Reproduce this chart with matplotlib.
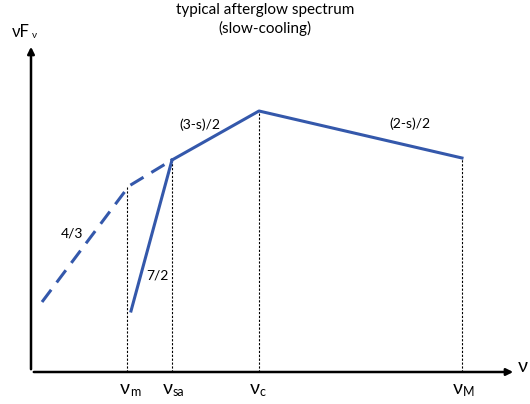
import matplotlib.pyplot as plt

# break frequencies, measured from the y axis (arbitrary units)
nu_m = 98
nu_sa = 141
nu_c = 228
nu_M = 431

# flux levels (vF_v, arbitrary units)
y_start_43 = 70
y_m = 186
y_sa = 212
y_start_72 = 61
y_c = 261
y_M = 214
x_start_43 = 11
x_start_72 = 100

slope_labels = ['4/3', '7/2', '(3-s)/2', '(2-s)/2']
freq_labels = [('m', nu_m), ('sa', nu_sa), ('c', nu_c), ('M', nu_M)]

blue = '#3458ab'
fam = ['Lato', 'DejaVu Sans']

fig = plt.figure(figsize=(5.3, 4.04), dpi=100)
ax = fig.add_axes([0, 0, 1, 1])
ax.set_xlim(-31, 499)
ax.set_ylim(-32, 372)
ax.axis('off')

# axes with arrows
ax.annotate('', xy=(485, 0), xytext=(0, 0),
            arrowprops=dict(arrowstyle='-|>', lw=1.8, color='black', mutation_scale=10))
ax.annotate('', xy=(0, 328), xytext=(0, 0),
            arrowprops=dict(arrowstyle='-|>', lw=1.8, color='black', mutation_scale=10))

# dotted drop lines
for x, y in [(nu_m - 2, y_m), (nu_sa, y_sa), (nu_c, y_c), (nu_M, y_M)]:
    ax.plot([x, x], [0, y], color='black', lw=0.8, ls=(0, (2, 1.5)))

# dashed self-absorbed branch
ax.plot([x_start_43, nu_m, nu_sa], [y_start_43, y_m, y_sa], color=blue, lw=2.2,
        ls=(0, (5, 3)), solid_capstyle='butt')
# solid branches
ax.plot([x_start_72, nu_sa], [y_start_72, y_sa], color=blue, lw=2.2)
ax.plot([nu_sa, nu_c, nu_M], [y_sa, y_c, y_M], color=blue, lw=2.2)

# slope labels
ax.text(41, 139, slope_labels[0], fontsize=10, ha='center', va='center', family=fam)
ax.text(126, 96, slope_labels[1], fontsize=10, ha='center', va='center', family=fam)
ax.text(169, 247, slope_labels[2], fontsize=10, ha='center', va='center', family=fam)
ax.text(379, 248, slope_labels[3], fontsize=10, ha='center', va='center', family=fam)

# frequency labels
for sub, x in freq_labels:
    ax.text(x + 1, -16, 'ν', fontsize=14, ha='right', va='center', family=fam)
    ax.text(x + 1, -20, sub, fontsize=9, ha='left', va='center', family=fam)
ax.text(492, 5, 'ν', fontsize=14, ha='center', va='center', family=fam)

# y label
ax.text(-10, 340, 'νF', fontsize=12, ha='center', va='center', family=fam)
ax.text(1, 337, 'ν', fontsize=7, ha='left', va='center', family=fam)

# title
ax.text(234, 362, 'typical afterglow spectrum', fontsize=11, ha='center', va='center', family=fam)
ax.text(234, 344, '(slow-cooling)', fontsize=11, ha='center', va='center', family=fam)

fig.savefig('out.png', dpi=100)
